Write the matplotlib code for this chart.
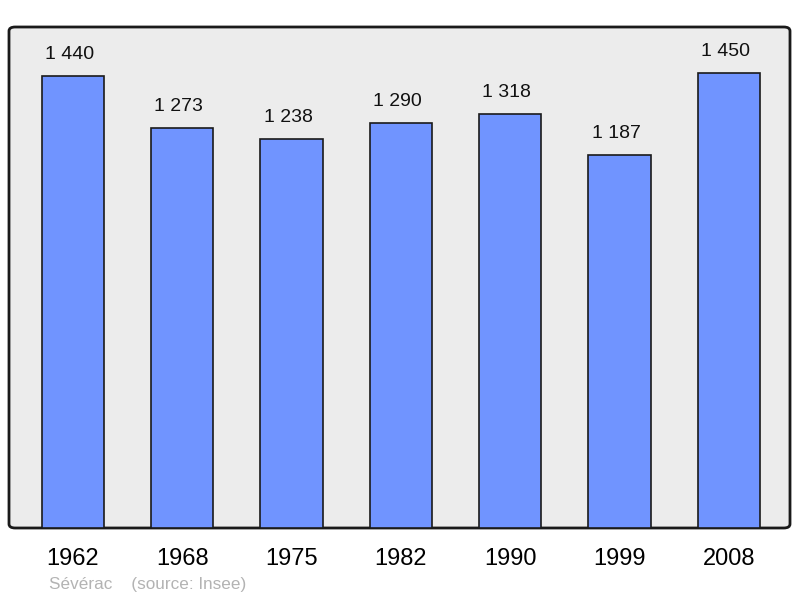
import matplotlib
matplotlib.use("Agg")
import matplotlib.pyplot as plt
from matplotlib.patches import FancyBboxPatch

years = ["1962", "1968", "1975", "1982", "1990", "1999", "2008"]
population = [1440, 1273, 1238, 1290, 1318, 1187, 1450]
labels = ["1 440", "1 273", "1 238", "1 290", "1 318", "1 187", "1 450"]

plt.rcParams['font.family'] = ['Liberation Sans', 'DejaVu Sans']

fig = plt.figure(figsize=(8, 5.98), dpi=100)
W, H = 800, 598
ax = fig.add_axes([9 / W, (H - 528) / H, 781 / W, 501 / H])
ax.set_facecolor('none')

# rounded frame with background
frame = FancyBboxPatch((0, 0), 1, 1, boxstyle="round,pad=0,rounding_size=0.008",
                       transform=ax.transAxes, facecolor='#ececec', edgecolor='#1a1a1a',
                       linewidth=2, zorder=0, clip_on=False)
ax.add_patch(frame)

x = list(range(len(years)))
ax.bar(x, population, width=0.57, color='#7094ff', edgecolor='#1a1a1a', linewidth=1.2, zorder=2)
for xi, v, lab in zip(x, population, labels):
    ax.annotate(lab, (xi, v), xytext=(-2.5, 15.5), textcoords='offset points',
                ha='center', va='center', fontsize=14, color='#111111')

ax.set_xlim(-0.585, 6.56)
ax.set_ylim(0, 1596)
ax.set_xticks(x)
ax.set_xticklabels(years, fontsize=17)
ax.tick_params(axis='x', length=0, pad=14.5)
ax.set_yticks([])
for s in ax.spines.values():
    s.set_visible(False)

fig.text(49 / W, 1 - 584 / H, "Sévérac    (source: Insee)", fontsize=12.3, color='#b3b3b3',
         ha='left', va='center')

fig.savefig("out.png", dpi=100)
